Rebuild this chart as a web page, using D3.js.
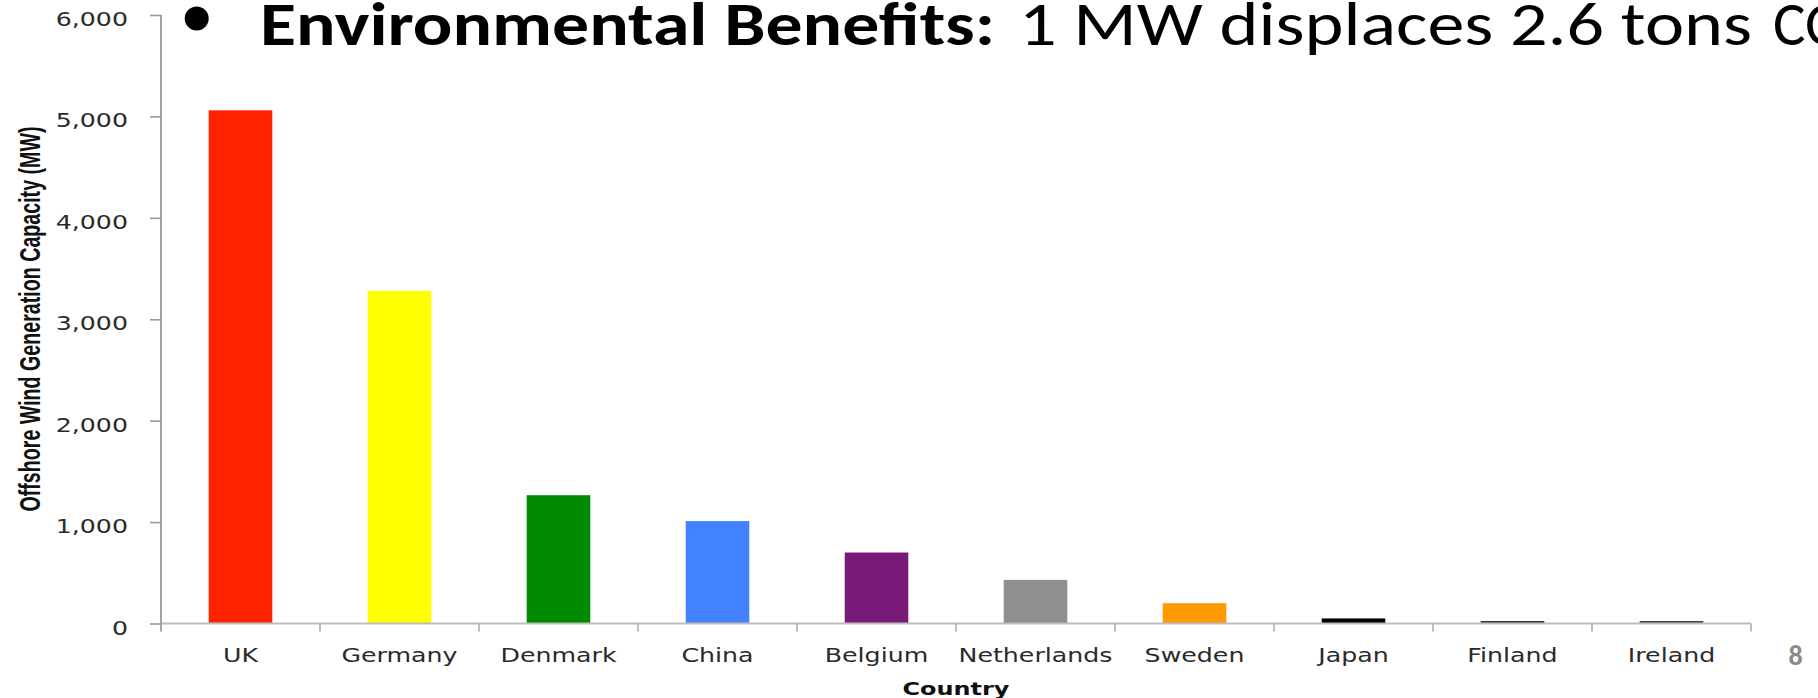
<!DOCTYPE html>
<html>
<head>
<meta charset="utf-8">
<script src="https://cdn.jsdelivr.net/npm/d3@7"></script>
<style>
  html, body { margin: 0; padding: 0; background: #ffffff; }
  svg { display: block; }
</style>
</head>
<body>
<svg id="chart" width="1818" height="698"></svg>
<script>
const countries = ["UK", "Germany", "Denmark", "China", "Belgium", "Netherlands", "Sweden", "Japan", "Finland", "Ireland"];
const capacityMW = [5060, 3280, 1265, 1010, 700, 430, 200, 50, 25, 25];
const barColors = ["#ff2200", "#ffff00", "#008a00", "#4282ff", "#7a1a78", "#8f8f8f", "#ff9900", "#000000", "#3a3a3a", "#464646"];
const yTickValues = [0, 1000, 2000, 3000, 4000, 5000, 6000];
const titleBold = "Environmental Benefits:";
const titleRegular = "1 MW displaces 2.6 tons";
const titleCut = "CO";
const xAxisTitle = "Country";
const yAxisTitle = "Offshore Wind Generation Capacity (MW)";
const pageNumber = "8";

const data = countries.map((c, i) => ({ country: c, value: capacityMW[i], color: barColors[i] }));

const svg = d3.select("#chart");
const W = 1818, H = 698;
const plot = { left: 161, right: 1751, top: 15, bottom: 623.5 };
const stretch = 1.33;   // chart text is horizontally stretched in the reference

svg.append("rect").attr("width", W).attr("height", H).attr("fill", "#fff");

const x = d3.scaleBand().domain(countries).range([plot.left, plot.right]).padding(0);
const y = d3.scaleLinear().domain([0, 6000]).range([plot.bottom, plot.top]);

// Bars
const barW = x.bandwidth() * 0.4;
svg.append("g").selectAll("rect").data(data).join("rect")
  .attr("x", d => x(d.country) + (x.bandwidth() - barW) / 2)
  .attr("y", d => y(d.value))
  .attr("width", barW)
  .attr("height", d => y(0) - y(d.value))
  .attr("fill", d => d.color);

// Y axis
const yAxis = d3.axisLeft(y).tickValues(yTickValues).tickFormat(d3.format(",")).tickSize(11).tickSizeOuter(0);
const gy = svg.append("g").attr("transform", `translate(${plot.left},0)`).call(yAxis);
gy.select(".domain").remove();
gy.selectAll(".tick line").attr("stroke", "#9a9a9a").attr("stroke-width", 1.6);
gy.selectAll(".tick text")
  .attr("x", null).attr("dy", null)
  .attr("text-anchor", "end")
  .attr("transform", `translate(-33,10.5) scale(${stretch},1)`)
  .attr("font-family", "'DejaVu Sans', Verdana, sans-serif")
  .attr("font-size", 19)
  .attr("fill", "#2a2a2a");
svg.append("line")
  .attr("x1", plot.left).attr("x2", plot.left)
  .attr("y1", y(6000)).attr("y2", y(0) + 8)
  .attr("stroke", "#9a9a9a").attr("stroke-width", 1.8);

// X axis
svg.append("line")
  .attr("x1", plot.left).attr("x2", plot.right)
  .attr("y1", y(0)).attr("y2", y(0))
  .attr("stroke", "#bdbdbd").attr("stroke-width", 1.8);
const boundaries = countries.slice(1).map(c => x(c)).concat([x.range()[1]]);
svg.append("g").selectAll("line").data(boundaries).join("line")
  .attr("x1", d => d).attr("x2", d => d)
  .attr("y1", y(0)).attr("y2", y(0) + 8)
  .attr("stroke", "#a8a8a8").attr("stroke-width", 1.5);
svg.append("g").selectAll("text").data(countries).join("text")
  .attr("transform", d => `translate(${x(d) + x.bandwidth() / 2},${y(0) + 38}) scale(${stretch},1)`)
  .attr("text-anchor", "middle")
  .attr("font-family", "'DejaVu Sans', Verdana, sans-serif")
  .attr("font-size", 19)
  .attr("fill", "#2a2a2a")
  .text(d => d);

// Axis titles
svg.append("text")
  .attr("transform", `translate(${(plot.left + plot.right) / 2},${y(0) + 71}) scale(${stretch},1)`)
  .attr("text-anchor", "middle")
  .attr("font-family", "'DejaVu Sans', Verdana, sans-serif")
  .attr("font-weight", "bold")
  .attr("font-size", 18)
  .attr("fill", "#111")
  .text(xAxisTitle);

svg.append("text")
  .attr("transform", `translate(40,319) scale(${stretch},1) rotate(-90)`)
  .attr("text-anchor", "middle")
  .attr("font-family", "'Liberation Sans Narrow', 'Liberation Sans', Arial, sans-serif")
  .attr("font-weight", "bold")
  .attr("font-size", 22)
  .attr("textLength", 385)
  .attr("lengthAdjust", "spacingAndGlyphs")
  .attr("fill", "#111")
  .text(yAxisTitle);

// Slide title (partially cut off at right, as in the reference)
svg.append("circle").attr("cx", 196.7).attr("cy", 18.5).attr("r", 12).attr("fill", "#000");
svg.append("text")
  .attr("x", 260).attr("y", 45)
  .attr("font-family", "Carlito, Calibri, Lato, 'Open Sans', sans-serif")
  .attr("font-weight", "bold")
  .attr("font-size", 61)
  .attr("textLength", 735)
  .attr("lengthAdjust", "spacingAndGlyphs")
  .attr("fill", "#000")
  .text(titleBold);
svg.append("text")
  .attr("x", 1019).attr("y", 45)
  .attr("font-family", "Carlito, Calibri, Lato, 'Open Sans', sans-serif")
  .attr("font-size", 61)
  .attr("textLength", 733)
  .attr("lengthAdjust", "spacingAndGlyphs")
  .attr("fill", "#000")
  .text(titleRegular);
svg.append("text")
  .attr("x", 1773).attr("y", 45)
  .attr("font-family", "Carlito, Calibri, Lato, 'Open Sans', sans-serif")
  .attr("font-size", 61)
  .attr("fill", "#000")
  .text(titleCut);

// Page number
svg.append("text")
  .attr("x", 1795.5).attr("y", 665)
  .attr("text-anchor", "middle")
  .attr("font-family", "Carlito, Calibri, Lato, sans-serif")
  .attr("font-weight", "bold")
  .attr("font-size", 28)
  .attr("fill", "#8a8a8a")
  .text(pageNumber);
</script>
</body>
</html>
